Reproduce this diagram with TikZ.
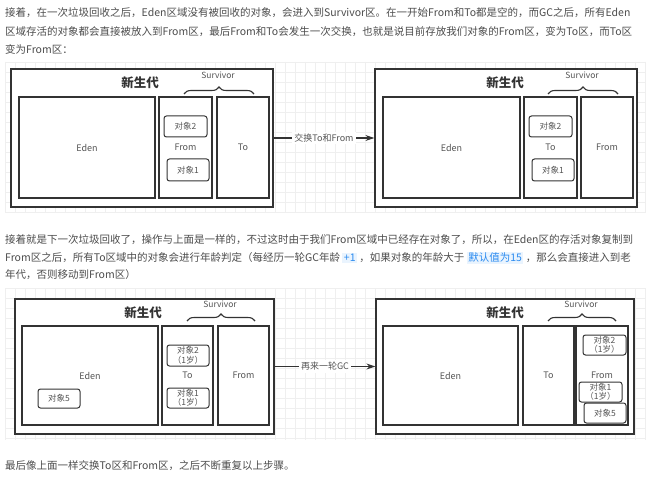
\documentclass[tikz,border=0pt]{standalone}
\usepackage{fontspec}
\setmainfont{Noto Sans CJK SC}
\usetikzlibrary{positioning, arrows.meta, decorations.pathreplacing}
\definecolor{Ink}{HTML}{333333}
\definecolor{Label}{HTML}{555555}
\definecolor{Prose}{HTML}{4D4D4D}
\definecolor{GridLine}{HTML}{EFEFEF}
\definecolor{HlText}{HTML}{2D8CF0}
\definecolor{HlBack}{HTML}{EAF4FE}
\newcommand{\hlbox}[1]{{\setlength{\fboxsep}{1.5pt}\colorbox{HlBack}{\textcolor{HlText}{#1}}}}
\tikzset{
    textnode/.style={anchor=west, inner sep=0pt, text=Prose, font=\fontsize{10.5}{12}\selectfont},
    gennode/.style={rectangle, draw=Ink, fill=white, line width=1.3pt, inner sep=0pt},
    areanode/.style={rectangle, draw=Ink, line width=1.1pt, inner sep=0pt, text=Label, font=\fontsize{9}{10}\selectfont},
    objnode/.style={rectangle, rounded corners=2.5pt, draw=Ink, fill=white, line width=1pt, inner sep=0pt, align=center, text=Label, font=\fontsize{8.5}{9.5}\selectfont},
    titlenode/.style={text=Ink, font=\bfseries\fontsize{12.5}{14}\selectfont},
    survnode/.style={text=Label, font=\fontsize{8.5}{10}\selectfont},
    survbrace/.style={decorate, decoration={brace, amplitude=7pt}, draw=Ink, line width=1.1pt},
    arrow/.style={-{Stealth[length=9pt, width=6pt]}, line width=1.1pt, draw=Ink},
    arrowlabel/.style={fill=white, inner sep=2pt, text=Label, font=\fontsize{9}{10}\selectfont},
    gridline/.style={draw=GridLine, line width=0.6pt},
}
\begin{document}
\begin{tikzpicture}[x=1pt, y=-1pt]
\useasboundingbox (0,0) rectangle (660,478);
\fill[white] (0,0) rectangle (660,478);

% 第一段文字
\node[textnode] (p1a) at (5,13) {接着，在一次垃圾回收之后，Eden区域没有被回收的对象，会进入到Survivor区。在一开始From和To都是空的，而GC之后，所有Eden};
\node[textnode] (p1b) at (5,32) {区域存活的对象都会直接被放入到From区，最后From和To会发生一次交换，也就是说目前存放我们对象的From区，变为To区，而To区};
\node[textnode] (p1c) at (5,49) {变为From区：};

% 网格 1
\foreach \gx in {5,15,...,645} \draw[gridline] (\gx,62) -- (\gx,213);
\foreach \gy in {62,72,...,212} \draw[gridline] (5,\gy) -- (645,\gy);

% 交换前
\node[gennode, minimum width=262, minimum height=138] (gen1) at (142,138) {};
\node[titlenode] (title1) at (140,83) {新生代};
\node[survnode] (surv1) at (218,75) {Survivor};
\draw[survbrace] (184,94) -- (254,94);
\node[areanode, minimum width=136, minimum height=101] (eden1) at (87,147.5) {Eden};
\node[areanode, minimum width=53, minimum height=101] (from1) at (185.5,147.5) {From};
\node[areanode, minimum width=52, minimum height=101] (to1) at (243,147.5) {To};
\node[objnode, minimum width=43, minimum height=21] (obj2a) at (185.5,126.5) {对象2};
\node[objnode, minimum width=42, minimum height=22] (obj1a) at (188,170) {对象1};

% 交换后
\node[gennode, minimum width=262, minimum height=138] (gen2) at (506,138) {};
\node[titlenode] (title2) at (505,83) {新生代};
\node[survnode] (surv2) at (582,75) {Survivor};
\draw[survbrace] (548,94) -- (618,94);
\node[areanode, minimum width=137, minimum height=101] (eden2) at (451.5,147.5) {Eden};
\node[areanode, minimum width=53, minimum height=101] (to2) at (550.5,147.5) {To};
\node[areanode, minimum width=52, minimum height=101] (from2) at (607,147.5) {From};
\node[objnode, minimum width=43, minimum height=21] (obj2b) at (550.5,126.5) {对象2};
\node[objnode, minimum width=42, minimum height=22] (obj1b) at (553,170) {对象1};

\draw[arrow] (gen1.east) -- node[arrowlabel] {交换To和From} (gen2.west);

% 第二段文字
\node[textnode] (p2a) at (5,240) {接着就是下一次垃圾回收了，操作与上面是一样的，不过这时由于我们From区域中已经存在对象了，所以，在Eden区的存活对象复制到};
\node[textnode] (p2b) at (5,258) {From区之后，所有To区域中的对象会进行年龄判定（每经历一轮GC年龄 \hlbox{+1} ，如果对象的年龄大于 \hlbox{默认值为15} ，那么会直接进入到老};
\node[textnode] (p2c) at (5,275) {年代，否则移动到From区）};

% 网格 2
\foreach \gx in {5,15,...,645} \draw[gridline] (\gx,288) -- (\gx,440);
\foreach \gy in {288,298,...,438} \draw[gridline] (5,\gy) -- (645,\gy);

% GC 前
\node[gennode, minimum width=259, minimum height=135] (gen3) at (144.5,366.5) {};
\node[titlenode] (title3) at (143,313) {新生代};
\node[survnode] (surv3) at (220,304) {Survivor};
\draw[survbrace] (187,321) -- (255,321);
\node[areanode, minimum width=136, minimum height=99] (eden3) at (90,375.5) {Eden};
\node[areanode, minimum width=51, minimum height=99] (to3) at (187.5,375.5) {To};
\node[areanode, minimum width=51, minimum height=99] (from3) at (243.5,375.5) {From};
\node[objnode, minimum width=42, minimum height=19] (obj5c) at (59,398.5) {对象5};
\node[objnode, minimum width=42, minimum height=21] (obj2c) at (188,355.5) {对象2\\（1岁）};
\node[objnode, minimum width=42, minimum height=20] (obj1c) at (188,398) {对象1\\（1岁）};

% GC 后
\node[gennode, minimum width=258, minimum height=135] (gen4) at (505,366.5) {};
\node[titlenode] (title4) at (505,313) {新生代};
\node[survnode] (surv4) at (581,304) {Survivor};
\draw[survbrace] (548,321) -- (616,321);
\node[areanode, minimum width=135, minimum height=99] (eden4) at (450.5,375.5) {Eden};
\node[areanode, minimum width=51, minimum height=99] (to4) at (548.5,375.5) {To};
\node[areanode, minimum width=52, minimum height=99] (from4) at (602,375.5) {From};
\node[objnode, minimum width=43, minimum height=20] (obj2d) at (604.5,345) {对象2\\（1岁）};
\node[objnode, minimum width=43, minimum height=20] (obj1d) at (600.5,392) {对象1\\（1岁）};
\node[objnode, minimum width=42, minimum height=20] (obj5d) at (605,413) {对象5};

\draw[arrow] (gen3.east) -- node[arrowlabel] {再来一轮GC} (gen4.west);

% 结尾
\node[textnode] (p3) at (5,466) {最后像上面一样交换To区和From区，之后不断重复以上步骤。};
\end{tikzpicture}
\end{document}
